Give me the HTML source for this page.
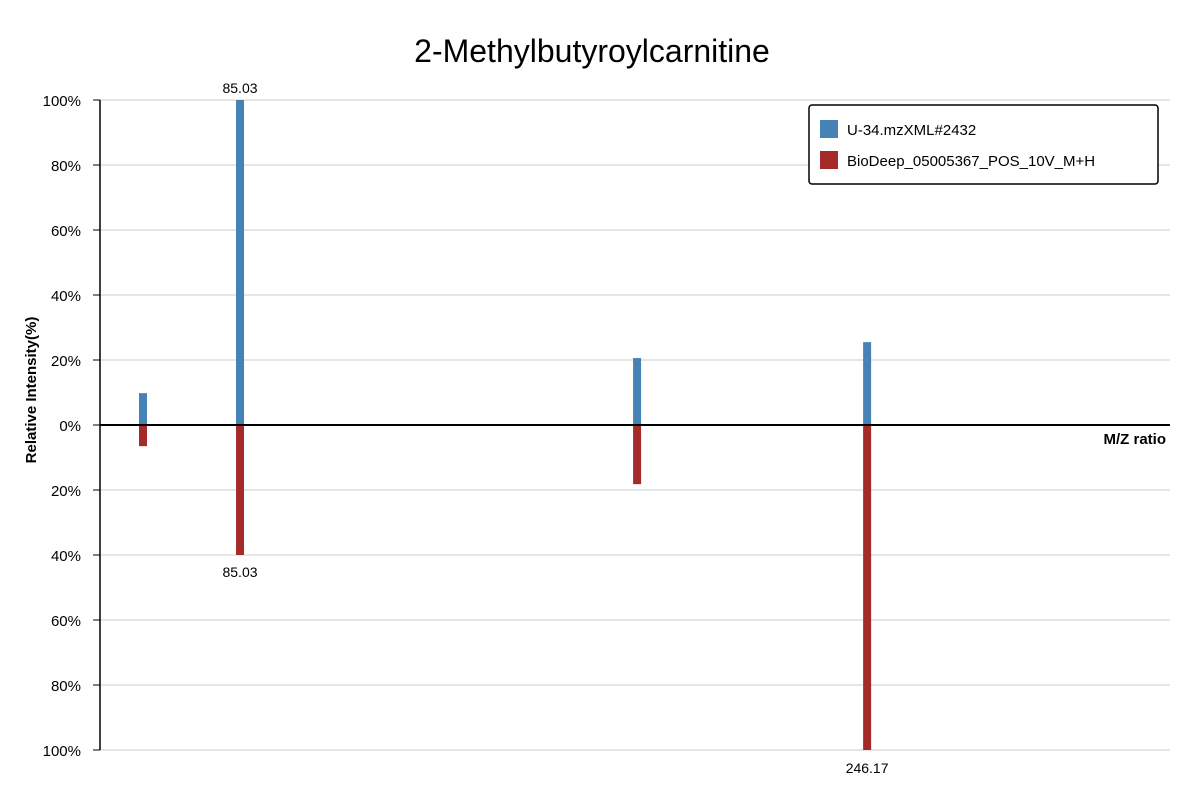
<!DOCTYPE html>
<html><head><meta charset="utf-8"><style>
body{margin:0;background:#fff;font-family:"Liberation Sans",sans-serif;}
</style></head><body>
<svg id="chart" width="1200" height="800" xmlns="http://www.w3.org/2000/svg">
<text x="592" y="62" text-anchor="middle" font-size="32" fill="#000">2-Methylbutyroylcarnitine</text>
<g id="grid"></g><g id="bars"></g><g id="axes"></g>
<text transform="translate(36,390) rotate(-90)" text-anchor="middle" font-size="15" font-weight="bold">Relative Intensity(%)</text>
<text x="1166" y="444" text-anchor="end" font-size="15" font-weight="bold">M/Z ratio</text>
<g>
<rect x="809" y="105" width="349" height="79" rx="3" fill="#fff" stroke="#000" stroke-width="1.5"/>
<rect x="820" y="120" width="18" height="18" fill="#4682b4"/>
<text x="847" y="135" font-size="15">U-34.mzXML#2432</text>
<rect x="820" y="151" width="18" height="18" fill="#a52a2a"/>
<text x="847" y="166" font-size="15">BioDeep_05005367_POS_10V_M+H</text>
</g>
</svg>
<script>
const mz = [60.10, 85.03, 187.06, 246.17];
const queryIntensity = [9.8, 100, 20.6, 25.5];
const refIntensity = [6.5, 40, 18.2, 100];
const yTicks = [100, 80, 60, 40, 20, 0, -20, -40, -60, -80, -100];
const xMin = 49.05, xMax = 324.0;
const NS = "http://www.w3.org/2000/svg";
const X = v => 100 + (v - xMin) / (xMax - xMin) * 1070;
const Y = p => 425 - p * 3.25;
const grid = document.getElementById('grid'), bars = document.getElementById('bars'), axes = document.getElementById('axes');
function mk(tag, attrs, parent, txt){const e=document.createElementNS(NS,tag);for(const k in attrs)e.setAttribute(k,attrs[k]);if(txt!==undefined)e.textContent=txt;parent.appendChild(e);return e;}
yTicks.forEach(t=>{
  const g=mk('line',{x1:100,x2:1170,y1:Y(t),y2:Y(t),stroke:'#ddd','stroke-width':1.5},grid);
  
  
  const tk=mk('line',{x1:93,x2:100,y1:Y(t),y2:Y(t),stroke:'#000'},axes);
  
  
  const lb=mk('text',{x:81,y:Y(t)+6,'text-anchor':'end','font-size':15},axes,Math.abs(t)+'%');
  
  
});
const ya=mk('line',{x1:100,x2:100,y1:100,y2:750,stroke:'#000','stroke-width':1.5},axes);


const xa=mk('line',{x1:100,x2:1170,y1:425,y2:425,stroke:'#000','stroke-width':2},axes);


let qMax=0, rMax=0;
mz.forEach((m,i)=>{
  if(queryIntensity[i]>queryIntensity[qMax])qMax=i;
  if(refIntensity[i]>refIntensity[rMax])rMax=i;
  const q=mk('rect',{x:X(m)-4,y:Y(queryIntensity[i]),width:8,height:queryIntensity[i]*3.25,fill:'#4682b4'},bars);
  
  
  const r=mk('rect',{x:X(m)-4,y:425,width:8,height:refIntensity[i]*3.25,fill:'#a52a2a'},bars);
  
  
});
const ql=mk('text',{x:X(mz[qMax]),y:Y(queryIntensity[qMax])-7,'text-anchor':'middle','font-size':14},bars,mz[qMax].toFixed(2));


const rl=mk('text',{x:X(mz[rMax]),y:Y(-refIntensity[rMax])+23,'text-anchor':'middle','font-size':14},bars,mz[rMax].toFixed(2));


const rl2=mk('text',{x:X(mz[1]),y:Y(-refIntensity[1])+22,'text-anchor':'middle','font-size':14},bars,mz[1].toFixed(2));


</script>
</body></html>
